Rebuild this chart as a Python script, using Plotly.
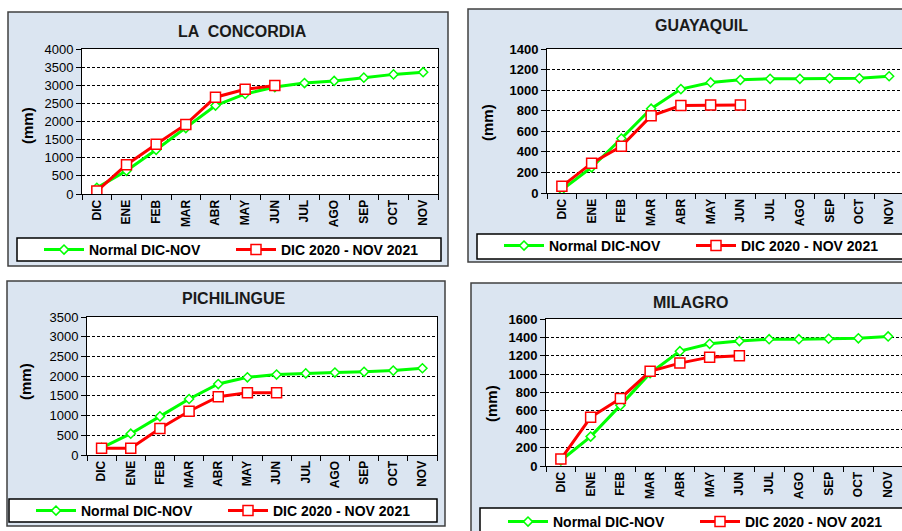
import plotly.graph_objects as go

months = ["DIC", "ENE", "FEB", "MAR", "ABR", "MAY", "JUN", "JUL", "AGO", "SEP", "OCT", "NOV"]
actual_months = months[:7]

titles = ["LA  CONCORDIA", "GUAYAQUIL", "PICHILINGUE", "MILAGRO"]
series_normal_name = "Normal DIC-NOV"
series_actual_name = "DIC 2020 - NOV 2021"

concordia_normal = [170, 640, 1220, 1820, 2440, 2760, 2950, 3060, 3120, 3210, 3300, 3360]
concordia_actual = [80, 810, 1370, 1920, 2670, 2890, 2990]

guayaquil_normal = [30, 250, 530, 820, 1010, 1075, 1100, 1110, 1110, 1115, 1115, 1135]
guayaquil_actual = [65, 290, 455, 750, 850, 855, 855]

pichilingue_normal = [180, 540, 980, 1420, 1800, 1970, 2040, 2070, 2090, 2110, 2140, 2200]
pichilingue_actual = [170, 170, 670, 1110, 1480, 1580, 1580]

milagro_normal = [60, 320, 660, 1010, 1250, 1330, 1360, 1380, 1380, 1385, 1390, 1410]
milagro_actual = [75, 530, 735, 1030, 1120, 1185, 1200]

y_max = [4000, 1400, 3500, 1600]
y_step = [500, 200, 500, 200]

W, H = 902, 531
GREEN = "#00ff00"
RED = "#ff0000"
PANEL_BG = "#dbe5f1"
FONT = "Liberation Sans"

def px(x):
    return x / W

def py(y):
    return 1 - y / H

# layout geometry (pixels)
panels = [
    dict(box=(8, 12, 448, 266), plot=(82, 49, 438, 194), cut=0.0,
         leg=(17, 238, 441, 261), legx=39, legy=250, title=(242, 32), mm=(27, 126), boldy=False),
    dict(box=(468, 9, 905, 262), plot=(547, 49, 904, 193), cut=(904 - 902) / 29.75,
         leg=(477, 234, 905, 259), legx=499, legy=246, title=(701, 25), mm=(488, 123), boldy=True),
    dict(box=(7, 281, 445, 526), plot=(87, 317, 437, 455), cut=0.0,
         leg=(9, 499, 437, 522), legx=31, legy=511, title=(233, 298), mm=(25, 382), boldy=False),
    dict(box=(471, 283, 905, 535), plot=(546, 319, 903, 466), cut=(903 - 902) / 29.75,
         leg=(480, 508, 905, 535), legx=503, legy=522, title=(691, 302), mm=(491, 404), boldy=True),
]

normals = [concordia_normal, guayaquil_normal, pichilingue_normal, milagro_normal]
actuals = [concordia_actual, guayaquil_actual, pichilingue_actual, milagro_actual]

fig = go.Figure()
shapes = []
annotations = []
layout_extra = {}

for i, p in enumerate(panels):
    n = "" if i == 0 else str(i + 1)
    xa, ya = "x" + n, "y" + n
    leg = "legend" + n
    fig.add_trace(go.Scatter(
        x=months, y=normals[i], mode="lines+markers", name=series_normal_name,
        line=dict(color=GREEN, width=3),
        marker=dict(symbol="diamond", size=7, color="white", line=dict(color=GREEN, width=1.5)),
        xaxis=xa, yaxis=ya, legend=leg, showlegend=True))
    fig.add_trace(go.Scatter(
        x=actual_months, y=actuals[i], mode="lines+markers", name=series_actual_name,
        line=dict(color=RED, width=3),
        marker=dict(symbol="square", size=10, color="white", line=dict(color=RED, width=1.5)),
        xaxis=xa, yaxis=ya, legend=leg, showlegend=True))

    bx0, by0, bx1, by1 = p["box"]
    shapes.append(dict(type="rect", xref="paper", yref="paper", layer="below",
                       x0=px(bx0), x1=px(bx1), y0=py(by1), y1=py(by0),
                       fillcolor=PANEL_BG, line=dict(color="#404040", width=1.5)))
    ox0, oy0, ox1, oy1 = p["plot"]
    shapes.append(dict(type="rect", xref="paper", yref="paper", layer="below",
                       x0=px(ox0), x1=px(min(ox1, 905)), y0=py(oy1), y1=py(oy0),
                       fillcolor="white", line=dict(width=0)))
    lx0, ly0, lx1, ly1 = p["leg"]
    shapes.append(dict(type="rect", xref="paper", yref="paper", layer="below",
                       x0=px(lx0), x1=px(lx1), y0=py(ly1), y1=py(ly0),
                       fillcolor="white", line=dict(color="black", width=1.5)))

    tx, ty = p["title"]
    annotations.append(dict(text="<b>%s</b>" % titles[i], xref="paper", yref="paper",
                            x=px(tx), y=py(ty), xanchor="center", yanchor="middle",
                            showarrow=False, font=dict(family=FONT, size=16, color="#1a1a1a")))
    mx, my = p["mm"]
    annotations.append(dict(text="<b>(mm)</b>", xref="paper", yref="paper",
                            x=px(mx), y=py(my), xanchor="center", yanchor="middle",
                            textangle=-90, showarrow=False,
                            font=dict(family=FONT, size=15, color="black")))

    cut = p["cut"]
    right_cut = cut > 0
    layout_extra["xaxis" + n] = dict(
        domain=[px(ox0), min(px(ox1), 1.0)], anchor=ya,
        type="category", categoryorder="array", categoryarray=months,
        range=[-0.5, 11.5 - cut], tickson="boundaries",
        ticks="outside", ticklen=5, tickcolor="black", tickwidth=1,
        tickangle=-90, showgrid=False, zeroline=False,
        showline=True, linecolor="black", linewidth=1, mirror=True,
        tickfont=dict(family=FONT, size=12, color="black", weight="bold"),
        automargin=False, fixedrange=True)
    layout_extra["yaxis" + n] = dict(
        domain=[py(oy1), py(oy0)], anchor=xa,
        range=[0, y_max[i]], dtick=y_step[i], tick0=0,
        ticks="outside", ticklen=5, tickcolor="black", tickwidth=1,
        showgrid=True, gridcolor="black", gridwidth=1, griddash="3px,2px",
        zeroline=False, showline=True, linecolor="black", linewidth=1,
        mirror=(not right_cut),
        tickfont=dict(family=FONT, size=13, color="black",
                      weight="bold" if p["boldy"] else "normal"),
        automargin=False, fixedrange=True)
    layout_extra[leg] = dict(
        xref="container", yref="container",
        x=px(p["legx"]), y=py(p["legy"]), xanchor="left", yanchor="middle",
        orientation="h", bgcolor="rgba(0,0,0,0)", borderwidth=0,
        itemwidth=40, entrywidth=137, entrywidthmode="pixels", itemclick=False,
        font=dict(family=FONT, size=14, color="black", weight="bold"))

fig.update_layout(
    width=W, height=H, margin=dict(l=0, r=0, t=0, b=0, autoexpand=False),
    paper_bgcolor="white", plot_bgcolor="rgba(0,0,0,0)",
    shapes=shapes, annotations=annotations, **layout_extra)

fig.write_html("out.html", config={"displayModeBar": False},
               post_script="document.body.style.margin='0';document.body.style.overflow='hidden';")
